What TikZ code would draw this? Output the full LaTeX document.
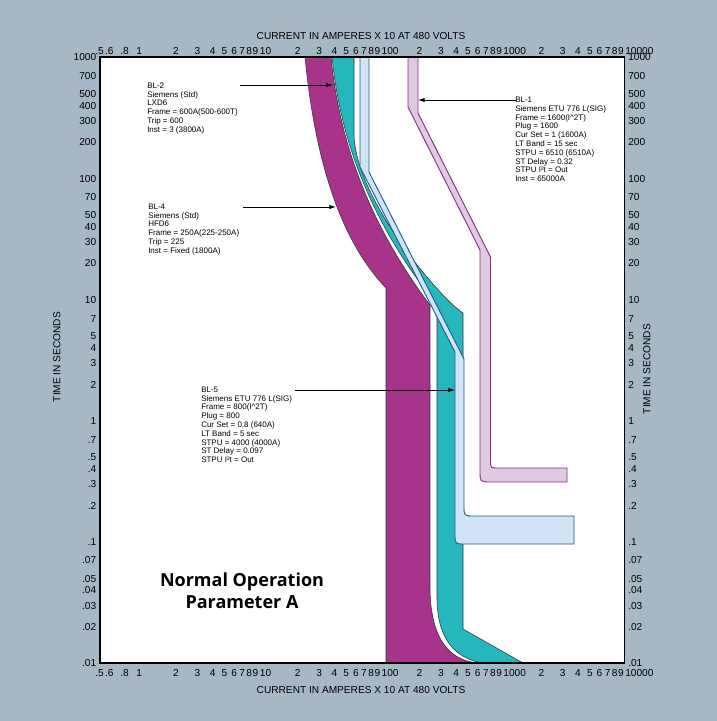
\documentclass[tikz,border=0pt]{standalone}
\usepackage{fontspec}
\setmainfont{Liberation Sans}
\newfontfamily\captionfont{Open Sans}
\usetikzlibrary{arrows.meta}
\definecolor{panelgray}{RGB}{167,184,197}
\definecolor{blmagenta}{RGB}{168,51,138}
\definecolor{blteal}{RGB}{38,182,189}
\definecolor{blsky}{RGB}{208,228,246}
\definecolor{blskyline}{RGB}{28,98,138}
\definecolor{bllilac}{RGB}{223,202,226}
\definecolor{bllilacline}{RGB}{142,42,140}

\begin{document}
\begin{tikzpicture}[x=0.75pt,y=0.75pt,yscale=-1,xscale=1,
  ticklab/.style={font=\fontsize{7.6}{8}\selectfont,inner sep=0pt},
  axtitle/.style={font=\fontsize{7.6}{8}\selectfont,inner sep=0pt},
  breakernote/.style={font=\fontsize{6}{6.6}\selectfont,align=left,inner sep=0pt,anchor=north west},
  leader/.style={line width=0.6pt,-{Latex[length=5pt,width=3.2pt]}},
  bandline/.style={draw=black!80,line width=0.4pt}]
%uncomment if require: \path (0,721); %set diagram left start at 0, and has height of 721

%Shape: Rectangle [background]
\fill [panelgray] (0,0) rectangle (717,721) ;
\useasboundingbox (0,0) rectangle (717,721) ;
%Shape: Rectangle [plot area]
\fill [white] (100,57) rectangle (624.5,663) ;

%Shape: Polygon [BL-2 band]
\draw [bandline, fill=blteal] (332,57) .. controls (341,150) and (378,232) .. (437,305) -- (437,600) .. controls (438,640) and (455,657) .. (481,663) -- (523,663) -- (463,629) -- (463,313) .. controls (440,298) and (356,200) .. (354,135) -- (354,57) -- cycle ;
%Shape: Polygon [BL-4 band]
\draw [bandline, fill=blmagenta] (305,57) .. controls (315,160) and (340,240) .. (386,288) -- (386,663) -- (477,663) .. controls (450,660) and (431,640) .. (430,590) -- (430,305) .. controls (375,232) and (340,150) .. (331,57) -- cycle ;
%Shape: Polygon [BL-5 band]
\draw [draw=blskyline, fill=blsky, line width=0.7pt] (360,57) -- (360,167) -- (455,352) -- (455,534) .. controls (455,544) .. (465,544) -- (574,544) -- (574,516) -- (474,516) .. controls (464,516) .. (464,506) -- (464,359) -- (369,172) -- (369,57) -- cycle ;
%Shape: Polygon [BL-1 band]
\draw [draw=bllilacline, fill=bllilac, line width=0.7pt] (408,57) -- (408,107) -- (480,250) -- (480,471) .. controls (480,482) .. (491,482) -- (567,482) -- (567,468) -- (498,468) .. controls (490.5,468) .. (490.5,460) -- (490.5,257) -- (418,113) -- (418,57) -- cycle ;

%Shape: Rectangle [plot frame]
\draw [line width=1.1pt] (100,57) rectangle (624.5,663) ;

%Axis titles
\node [axtitle] (toptitle) at (361,36) {CURRENT IN AMPERES X 10 AT 480 VOLTS};
\node [axtitle] (bottitle) at (361,690) {CURRENT IN AMPERES X 10 AT 480 VOLTS};
\node [axtitle, rotate=90] (lefttitle) at (57,357) {TIME IN SECONDS};
\node [axtitle, rotate=90] (righttitle) at (647,369) {TIME IN SECONDS};

%Time ticks
\foreach \val/\txt [count=\k] in {1000/1000,700/700,500/500,400/400,300/300,200/200,100/100,70/70,50/50,40/40,30/30,20/20,10/10,7/7,5/5,4/4,3/3,2/2,1/1,0.7/.7,0.5/.5,0.4/.4,0.3/.3,0.2/.2,0.1/.1,0.07/.07,0.05/.05,0.04/.04,0.03/.03,0.02/.02,0.01/.01}{
  \node [ticklab, anchor=east] (yl\k) at (96.5,{421-121.2*log10(\val)}) {\txt};
  \node [ticklab, anchor=west] (yr\k) at (628,{421-121.2*log10(\val)}) {\txt};
}
%Current ticks
\foreach \dec in {0,1,2,3}{
  \foreach \mm in {2,...,9}{
    \node [ticklab] (xt\dec\mm) at ({139.3+121.8*(\dec+log10(\mm))},50.7) {\mm};
    \node [ticklab] (xb\dec\mm) at ({139.3+121.8*(\dec+log10(\mm))},673.3) {\mm};
  }
}
\foreach \dec/\txt in {1/10,2/100,3/1000,4/10000}{
  \node [ticklab, anchor=west] (xtd\dec) at ({137.8+121.8*\dec},50.7) {\txt};
  \node [ticklab, anchor=west] (xbd\dec) at ({137.8+121.8*\dec},673.3) {\txt};
}
\foreach \val/\txt in {1/1,0.5/.5,0.6/.6,0.8/.8}{
  \node [ticklab] (xt\txt) at ({139.3+121.8*log10(\val)-(\val<1)*3},50.7) {\txt};
  \node [ticklab] (xb\txt) at ({139.3+121.8*log10(\val)-(\val<1)*3},673.3) {\txt};
}

%Breaker notes
\node [breakernote] (bl2) at (147,82.5) {BL-2\\Siemens (Std)\\LXD6\\Frame = 600A(500-600T)\\Trip = 600\\Inst = 3 (3800A)};
\node [breakernote] (bl4) at (148,203.5) {BL-4\\Siemens (Std)\\HFD6\\Frame = 250A(225-250A)\\Trip = 225\\Inst = Fixed (1800A)};
\node [breakernote] (bl5) at (201,386.5) {BL-5\\Siemens ETU 776 L(SIG)\\Frame = 800(I\textasciicircum 2T)\\Plug = 800\\Cur Set = 0.8 (640A)\\LT Band = 5 sec\\STPU = 4000 (4000A)\\ST Delay = 0.097\\STPU I²t = Out};
\node [breakernote] (bl1) at (515,96.8) {BL-1\\Siemens ETU 776 L(SIG)\\Frame = 1600(I\textasciicircum 2T)\\Plug = 1600\\Cur Set = 1 (1600A)\\LT Band = 15 sec\\STPU = 6510 (6510A)\\ST Delay = 0.32\\STPU I²t = Out\\Inst = 65000A};

%Straight Lines [leaders]
\coordinate (bl2tail) at (240,85) ;
\coordinate (bl2tip) at (333,85) ;
\coordinate (bl4tail) at (243,207) ;
\coordinate (bl4tip) at (336,207) ;
\coordinate (bl5tail) at (295,390) ;
\coordinate (bl5tip) at (455,390) ;
\coordinate (bl1tail) at (516,100) ;
\coordinate (bl1tip) at (418,100) ;
\draw [leader] (bl2tail) -- (bl2tip) ;
\draw [leader] (bl4tail) -- (bl4tip) ;
\draw [leader] (bl5tail) -- (bl5tip) ;
\draw [leader] (bl1tail) -- (bl1tip) ;

%Mode caption
\node [font=\captionfont\bfseries\fontsize{13.5}{16.5}\selectfont, align=center, inner sep=0pt] (modecap) at (242,591) {Normal Operation\\Parameter A};

\end{tikzpicture}
\end{document}
